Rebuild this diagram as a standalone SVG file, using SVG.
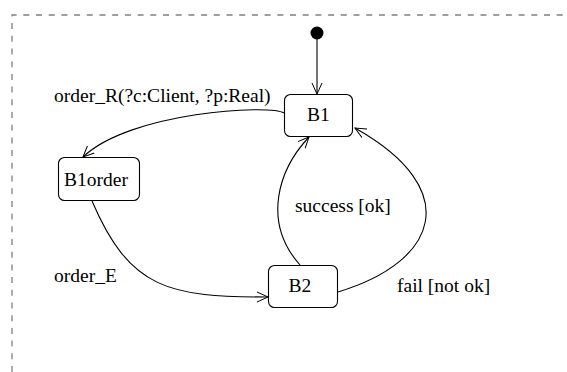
<svg xmlns="http://www.w3.org/2000/svg" width="567" height="372" viewBox="0 0 567 372">
  <style>
    .frame { fill: none; stroke: #808080; stroke-width: 1.3; stroke-dasharray: 6 6.7; }
    .state rect { fill: #ffffff; stroke: #000000; stroke-width: 1.1; }
    .lbl { font-family: "Liberation Serif", "Times New Roman", serif; font-size: 19.5px; fill: #000000; }
    .state text { text-anchor: middle; }
    .edge { fill: none; stroke: #000000; stroke-width: 1.1; marker-end: url(#open); }
  </style>
  <defs>
    <marker id="open" markerWidth="14" markerHeight="12" refX="11" refY="5" orient="auto" markerUnits="userSpaceOnUse" viewBox="0 0 14 10">
      <path d="M0,0 L11,5 L0,10" fill="none" stroke="#000000" stroke-width="1"/>
    </marker>
  </defs>

  <!-- region boundary -->
  <path class="frame" d="M12,372 L12,15 L567,15"/>

  <!-- initial pseudo-state -->
  <g id="initial">
    <circle cx="317" cy="33" r="6.5" fill="#000000"/>
  </g>

  <g id="B1" class="state">
    <rect x="284.5" y="94.5" width="68" height="42" rx="6"/>
    <text class="lbl" x="318.5" y="121">B1</text>
  </g>

  <g id="B1order" class="state">
    <rect x="58.5" y="157.5" width="81" height="43" rx="6"/>
    <text class="lbl" x="96" y="186">B1order</text>
  </g>

  <g id="B2" class="state">
    <rect x="268.5" y="265.5" width="69" height="42" rx="6"/>
    <text class="lbl" x="300" y="292">B2</text>
  </g>

  <g id="connectors">
    <path class="edge" d="M317,39 L317,94"/>
    <path class="edge" d="M284,113 C270,104 130,112 83,157"/>
    <path class="edge" d="M92,201 C130,290 170,297 268,297"/>
    <path class="edge" d="M300,265 C262,222 278,170 309,137"/>
    <path class="edge" d="M338,292 C438,262 465,190 355,128"/>
  </g>

  <g id="labels">
    <text class="lbl" x="54" y="102">order_R(?c:Client, ?p:Real)</text>
    <text class="lbl" x="54" y="282">order_E</text>
    <text class="lbl" x="295" y="212">success [ok]</text>
    <text class="lbl" x="397" y="292">fail [not ok]</text>
  </g>
</svg>
